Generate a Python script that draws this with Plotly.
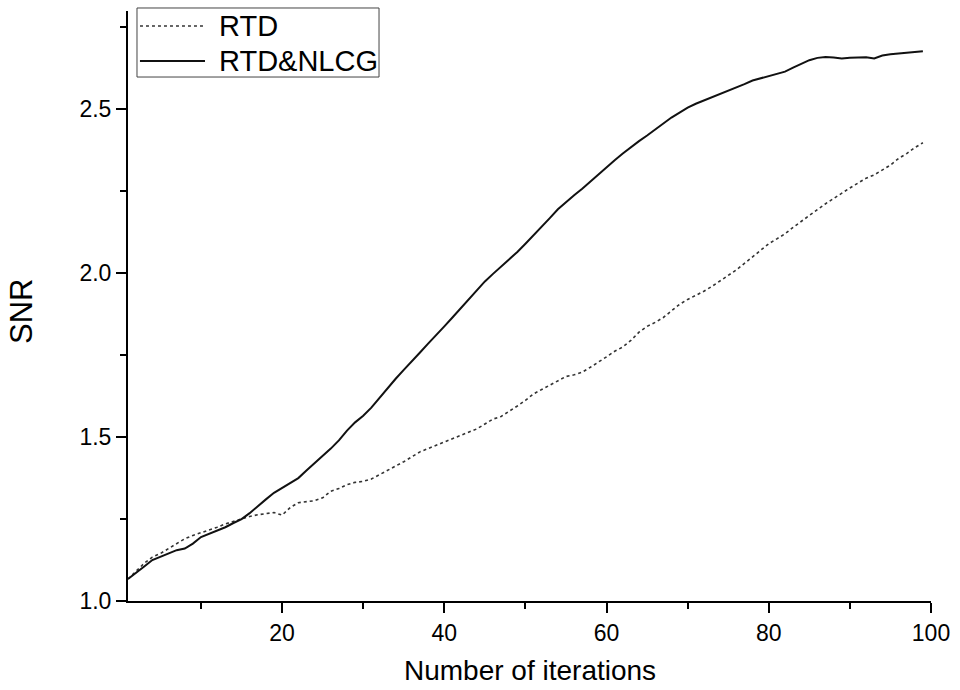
import plotly.graph_objects as go

# Iteration index
iterations = list(range(1, 100))

# SNR per iteration, RTD only
snr_rtd = [
    1.067, 1.090, 1.115, 1.134, 1.145, 1.160, 1.175, 1.190, 1.200, 1.208,
    1.215, 1.225, 1.235, 1.243, 1.250, 1.258, 1.263, 1.266, 1.270, 1.262,
    1.285, 1.300, 1.303, 1.306, 1.315, 1.335, 1.343, 1.355, 1.362, 1.365,
    1.372, 1.385, 1.398, 1.412, 1.425, 1.440, 1.455, 1.465, 1.475, 1.487,
    1.497, 1.507, 1.515, 1.525, 1.540, 1.555, 1.563, 1.578, 1.595, 1.612,
    1.632, 1.645, 1.658, 1.672, 1.685, 1.690, 1.698, 1.713, 1.728, 1.745,
    1.762, 1.775, 1.795, 1.820, 1.838, 1.850, 1.865, 1.885, 1.905, 1.920,
    1.932, 1.945, 1.960, 1.977, 1.992, 2.010, 2.030, 2.050, 2.070, 2.090,
    2.105, 2.120, 2.140, 2.158, 2.178, 2.195, 2.212, 2.228, 2.245, 2.260,
    2.275, 2.290, 2.300, 2.314, 2.330, 2.350, 2.365, 2.383, 2.398,
]

# SNR per iteration, RTD combined with NLCG
snr_rtd_nlcg = [
    1.067, 1.085, 1.105, 1.125, 1.135, 1.145, 1.155, 1.160, 1.175, 1.195,
    1.205, 1.215, 1.225, 1.238, 1.250, 1.268, 1.290, 1.310, 1.330, 1.345,
    1.360, 1.375, 1.398, 1.420, 1.440, 1.465, 1.490, 1.520, 1.545, 1.565,
    1.590, 1.620, 1.650, 1.678, 1.705, 1.730, 1.758, 1.785, 1.810, 1.838,
    1.865, 1.893, 1.920, 1.948, 1.975, 1.998, 2.020, 2.043, 2.065, 2.090,
    2.115, 2.140, 2.168, 2.195, 2.218, 2.238, 2.258, 2.280, 2.302, 2.325,
    2.345, 2.365, 2.385, 2.403, 2.420, 2.438, 2.455, 2.475, 2.490, 2.505,
    2.517, 2.527, 2.535, 2.545, 2.555, 2.565, 2.577, 2.588, 2.595, 2.602,
    2.607, 2.615, 2.627, 2.638, 2.650, 2.657, 2.660, 2.658, 2.655, 2.657,
    2.659, 2.659, 2.655, 2.664, 2.668, 2.670, 2.672, 2.676, 2.677,
]

series_names = ["RTD", "RTD&NLCG"]
x_ticks = [20, 40, 60, 80, 100]
y_ticks = [1.0, 1.5, 2.0, 2.5]
y_tick_labels = ["1.0", "1.5", "2.0", "2.5"]
x_title = "Number of iterations"
y_title = "SNR"

FONT = "Liberation Sans, Arial, sans-serif"
line_styles = [
    dict(color="#333333", width=1.6, dash="dot"),
    dict(color="#111111", width=2),
]

fig = go.Figure()
for name, values, style in zip(series_names, [snr_rtd, snr_rtd_nlcg], line_styles):
    fig.add_trace(go.Scatter(
        x=iterations, y=values, mode="lines", name=name,
        line=style, showlegend=False,
    ))

axis_common = dict(
    showgrid=False, zeroline=False, showline=True, automargin=False,
    linecolor="black", linewidth=2,
    ticks="outside", ticklen=10, tickwidth=2, tickcolor="black",
    tickfont=dict(family=FONT, size=23, color="black"),
)

fig.update_xaxes(
    range=[1, 100], tickvals=x_ticks, ticktext=[str(v) for v in x_ticks],
    minor=dict(tickvals=[10, 30, 50, 70, 90], ticklen=6, tickwidth=2,
               tickcolor="black", ticks="outside"),
    **axis_common,
)
fig.update_yaxes(
    range=[1.0, 2.8], tickvals=y_ticks, ticktext=y_tick_labels,
    minor=dict(tickvals=[1.25, 1.75, 2.25, 2.75], ticklen=6, tickwidth=2,
               tickcolor="black", ticks="outside"),
    **axis_common,
)

# Axis titles placed in paper coordinates
annotations = [
    dict(xref="paper", yref="paper", x=0.5, y=-0.1175,
         xanchor="center", yanchor="middle", showarrow=False,
         text=x_title, font=dict(family=FONT, size=28, color="black")),
    dict(xref="paper", yref="paper", x=-0.1333, y=0.4915, textangle=-90,
         xanchor="center", yanchor="middle", showarrow=False,
         text=y_title, font=dict(family=FONT, size=31, color="black")),
]

# Boxed key in the upper-left corner (paper coordinates)
key_x0, key_x1 = 0.0112, 0.3126
key_y0, key_y1 = 0.8881, 1.0051
sample_x0, sample_x1 = 0.0149, 0.0959
label_x = 0.1108
row_y = [0.9745, 0.9153]

shapes = [dict(type="rect", xref="paper", yref="paper",
               x0=key_x0, x1=key_x1, y0=key_y0, y1=key_y1,
               line=dict(color="#444444", width=1), fillcolor="white", layer="above")]
for name, style, ry in zip(series_names, line_styles, row_y):
    shapes.append(dict(type="line", xref="paper", yref="paper",
                       x0=sample_x0, x1=sample_x1, y0=ry, y1=ry,
                       line=style, layer="above"))
    annotations.append(dict(xref="paper", yref="paper", x=label_x, y=ry,
                            xanchor="left", yanchor="middle", showarrow=False,
                            text=name, font=dict(family=FONT, size=29, color="black")))

fig.update_layout(
    width=960, height=690,
    margin=dict(l=128, r=29, t=11, b=89),
    paper_bgcolor="white", plot_bgcolor="white",
    shapes=shapes, annotations=annotations,
)

fig.write_html("out.html")
